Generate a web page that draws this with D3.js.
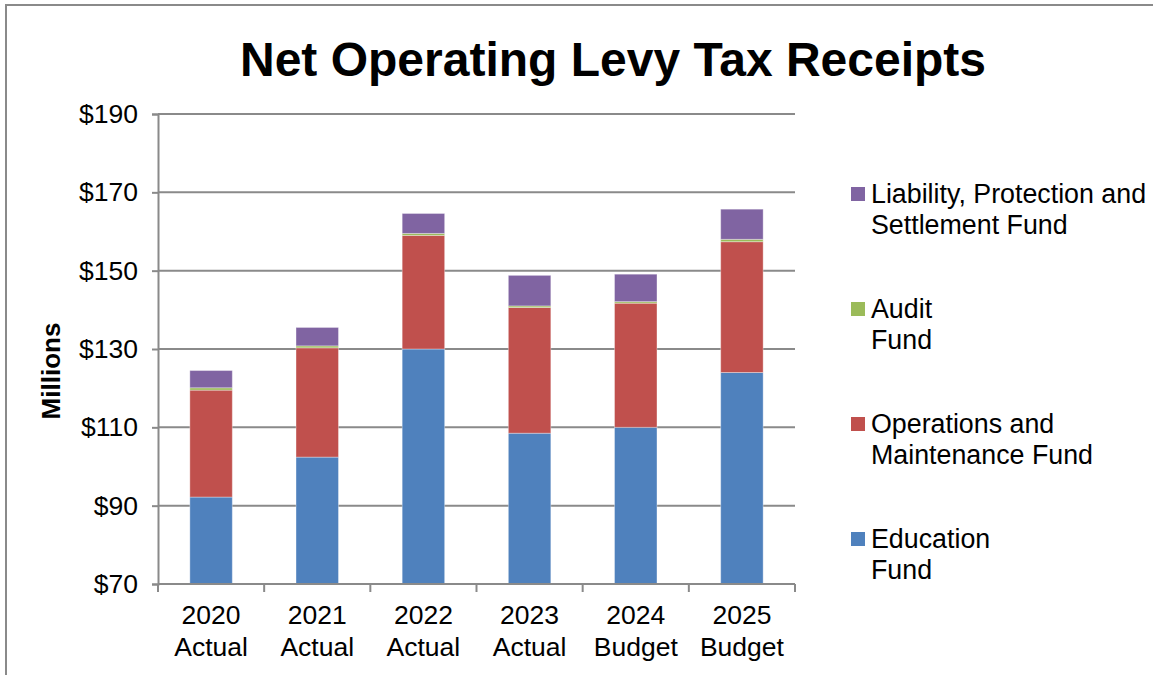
<!DOCTYPE html>
<html>
<head>
<meta charset="utf-8">
<script src="https://cdn.jsdelivr.net/npm/d3@7"></script>
<style>
  body { margin: 0; background: #fff; }
  text { font-family: "Liberation Sans", Arial, sans-serif; }
</style>
</head>
<body>
<div id="chart"></div>
<script>
// ---- data (millions of dollars) ----
const years = ["2020", "2021", "2022", "2023", "2024", "2025"];
const kinds = ["Actual", "Actual", "Actual", "Actual", "Budget", "Budget"];
const education   = [92.2, 102.4, 130.0, 108.5, 110.0, 124.0];
const operations  = [27.3, 27.9, 29.0, 32.1, 31.7, 33.4];
const audit       = [0.6, 0.5, 0.5, 0.4, 0.4, 0.6];
const liability   = [4.4, 4.7, 5.1, 7.8, 7.0, 7.7];
const seriesNames = ["Education Fund", "Operations and Maintenance Fund", "Audit Fund", "Liability, Protection and Settlement Fund"];
const legendLines = [["Education", "Fund"], ["Operations and", "Maintenance Fund"], ["Audit", "Fund"], ["Liability, Protection and", "Settlement Fund"]];
const colors = ["#4F81BD", "#C0504D", "#9BBB59", "#8064A2"];
const yTicks = [70, 90, 110, 130, 150, 170, 190];

const width = 1153, height = 675;
const margin = {top: 114, right: 358, bottom: 91, left: 158};

// table for the stack
const table = years.map((y, i) => ({
  year: y,
  "Education Fund": education[i],
  "Operations and Maintenance Fund": operations[i],
  "Audit Fund": audit[i],
  "Liability, Protection and Settlement Fund": liability[i]
}));

const svg = d3.create("svg")
  .attr("width", width)
  .attr("height", height);

// outer chart frame (cropped by the window)
svg.append("rect")
  .attr("x", 6).attr("y", 5)
  .attr("width", width + 20).attr("height", height + 20)
  .attr("fill", "none")
  .attr("stroke", "#8a8a8a")
  .attr("stroke-width", 2);

// title
svg.append("text")
  .attr("x", 613).attr("y", 76)
  .attr("text-anchor", "middle")
  .attr("font-size", "48px")
  .attr("font-weight", "bold")
  .text("Net Operating Levy Tax Receipts");

// scales
const xScale = d3.scaleBand()
  .domain(years)
  .range([margin.left, width - margin.right])
  .paddingInner(0.6)
  .paddingOuter(0.3);

const yScale = d3.scaleLinear()
  .domain([70, 190])
  .range([height - margin.bottom, margin.top])
  .clamp(true);

const colorScale = d3.scaleOrdinal().domain(seriesNames).range(colors);

// gridlines
svg.append("g")
  .selectAll("line")
  .data(yTicks.slice(1))
  .join("line")
  .attr("x1", margin.left).attr("x2", width - margin.right)
  .attr("y1", d => yScale(d)).attr("y2", d => yScale(d))
  .attr("stroke", "#8a8a8a")
  .attr("stroke-width", 2);

// y axis
const yAxis = svg.append("g")
  .attr("transform", `translate(${margin.left},0)`)
  .call(d3.axisLeft(yScale).tickValues(yTicks).tickFormat(d => "$" + d).tickSize(6).tickPadding(14));
yAxis.select(".domain").attr("stroke", "#8a8a8a").attr("stroke-width", 2);
yAxis.selectAll(".tick line").attr("stroke", "#8a8a8a").attr("stroke-width", 2);
yAxis.selectAll(".tick text")
  .attr("font-size", "26.5px")
  .attr("fill", "#000")
  .attr("font-family", "Liberation Sans, Arial, sans-serif");

// y axis title
svg.append("text")
  .attr("transform", `translate(60, ${yScale(130) + 22}) rotate(-90)`)
  .attr("text-anchor", "middle")
  .attr("font-size", "26px")
  .attr("font-weight", "bold")
  .text("Millions");

// stacked bars (axis starts at $70, so lower parts are clipped)
const stacked = d3.stack().keys(seriesNames)(table);

svg.append("g")
  .selectAll("g")
  .data(stacked)
  .join("g")
  .attr("fill", d => colorScale(d.key))
  .selectAll("rect")
  .data(d => d)
  .join("rect")
  .attr("x", d => xScale(d.data.year))
  .attr("width", xScale.bandwidth())
  .attr("y", d => yScale(d[1]))
  .attr("height", d => yScale(d[0]) - yScale(d[1]))
  .attr("stroke", "#ffffff")
  .attr("stroke-opacity", 0.35)
  .attr("stroke-width", 1);

// x axis
const xAxisG = svg.append("g")
  .attr("transform", `translate(0, ${yScale(70)})`);
xAxisG.append("line")
  .attr("x1", margin.left).attr("x2", width - margin.right)
  .attr("stroke", "#8a8a8a").attr("stroke-width", 2);
xAxisG.selectAll(".bound")
  .data(d3.range(years.length + 1))
  .join("line")
  .attr("class", "bound")
  .attr("x1", i => margin.left + i * xScale.step())
  .attr("x2", i => margin.left + i * xScale.step())
  .attr("y1", 0).attr("y2", 8)
  .attr("stroke", "#8a8a8a").attr("stroke-width", 2);

const xLabels = svg.append("g")
  .selectAll("text")
  .data(years)
  .join("text")
  .attr("x", d => xScale(d) + xScale.bandwidth() / 2)
  .attr("y", 624)
  .attr("text-anchor", "middle")
  .attr("font-size", "26.5px");
xLabels.append("tspan").text(d => d);
xLabels.append("tspan")
  .attr("x", d => xScale(d) + xScale.bandwidth() / 2)
  .attr("dy", 32)
  .text((d, i) => kinds[i]);

// legend (reverse order, top = last series)
const legend = svg.append("g")
  .selectAll("g")
  .data(seriesNames.slice().reverse())
  .join("g")
  .attr("transform", (d, i) => `translate(851, ${187 + i * 115})`);

legend.append("rect")
  .attr("width", 14).attr("height", 14)
  .attr("fill", d => colorScale(d));

const legendText = legend.append("text")
  .attr("x", 20).attr("y", 16)
  .attr("font-size", "26.8px");
legendText.selectAll("tspan")
  .data(d => legendLines[seriesNames.indexOf(d)])
  .join("tspan")
  .attr("x", 20)
  .attr("dy", (d, i) => i === 0 ? 0 : 31)
  .text(d => d);

document.getElementById("chart").appendChild(svg.node());
</script>
</body>
</html>
